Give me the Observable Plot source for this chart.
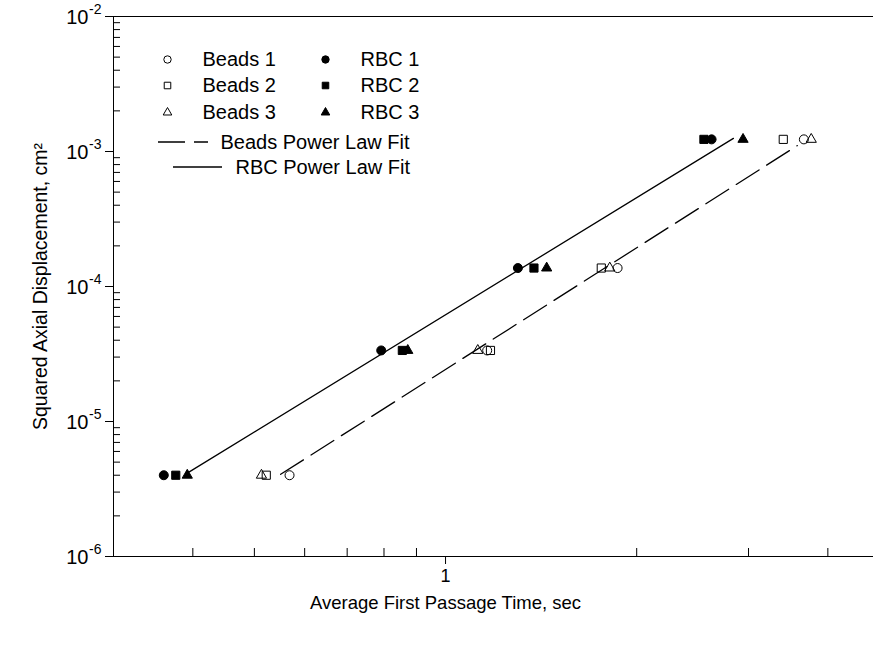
<!DOCTYPE html>
<html><head><meta charset="utf-8">
<script src="https://cdn.jsdelivr.net/npm/d3@7"></script>
<script src="https://cdn.jsdelivr.net/npm/@observablehq/plot@0.6"></script>
<style>body{margin:0;background:#fff}</style>
</head><body><div id="chart"></div>
<script>
// ---- data ----
const yLevels = [4.0e-6, 3.36e-5, 1.37e-4, 1.23e-3];   // squared axial displacement, cm^2
const beads1 = [0.568, 1.163, 1.866, 3.667];            // average first passage time, sec
const beads2 = [0.522, 1.177, 1.759, 3.403];
const beads3 = [0.513, 1.124, 1.814, 3.766];
const rbc1 = [0.360, 0.792, 1.300, 2.624];
const rbc2 = [0.376, 0.855, 1.378, 2.552];
const rbc3 = [0.392, 0.872, 1.443, 2.941];
const seriesNames = ["Beads 1", "Beads 2", "Beads 3", "RBC 1", "RBC 2", "RBC 3"];
const seriesSymbols = ["circle", "square", "triangle", "circle", "square", "triangle"];
const seriesFilled = [false, false, false, true, true, true];
const fitNames = ["Beads Power Law Fit", "RBC Power Law Fit"];
const beadsFitRange = [0.55, 3.58];
const rbcFitRange = [0.392, 2.84];
const xDomain = [0.3, 4.72];
const yDomain = [1e-6, 1e-2];
const xMajor = [1];
const xMinor = [0.4, 0.5, 0.6, 0.7, 0.8, 0.9, 2, 3, 4];
const yMajor = [1e-6, 1e-5, 1e-4, 1e-3, 1e-2];
const yExponents = ["-6", "-5", "-4", "-3", "-2"];
const yMinor = [1e-6, 1e-5, 1e-4, 1e-3].flatMap(d => [2,3,4,5,6,7,8,9].map(k => k * d));
const xTitle = "Average First Passage Time, sec";
const yTitle = "Squared Axial Displacement, cm²";

// ---- build tables ----
const seriesX = [beads1, beads2, beads3, rbc1, rbc2, rbc3];
const points = seriesX.flatMap((xs, s) => xs.map((x, i) => ({series: seriesNames[s], s, x, y: yLevels[i]})));

function powerFit(group, range) {
  const pts = points.filter(p => group.includes(p.s)).map(p => [Math.log10(p.x), Math.log10(p.y)]);
  const mx = d3.mean(pts, p => p[0]), my = d3.mean(pts, p => p[1]);
  const b = d3.sum(pts, p => (p[0]-mx)*(p[1]-my)) / d3.sum(pts, p => (p[0]-mx)**2);
  const a = my - b*mx;
  return range.map(x => ({x, y: Math.pow(10, a + b*Math.log10(x))}));
}
const beadsFit = powerFit([0,1,2], beadsFitRange);
const rbcFit = powerFit([3,4,5], rbcFitRange);

const F = "'Liberation Sans', Arial, Helvetica, sans-serif";
const W = 873, H = 645, mL = 113, mR = 0, mT = 16, mB = 89;
const frameW = W - mL - mR, frameH = H - mT - mB;
const dash = "27,9";
const LF = 20; // legend font size

// legend layout (pixel offsets from the frame's top-left corner)
const legSymDx = [54, 212], legTextDx = [89, 247], legRowDy = [43, 69, 96];
const legLineDy = [126, 151], legLineX = [[45, 95], [60, 109]], legLineTextDx = [107, 122];

const marks = [
  Plot.ruleY([yDomain[1]], {stroke: "black", strokeWidth: 1}),
  Plot.ruleY([yDomain[0]], {stroke: "black", strokeWidth: 1}),
  Plot.ruleX([xDomain[0]], {stroke: "black", strokeWidth: 1}),
  Plot.tickY(yMinor, {y: d => d, insetRight: frameW - 7, stroke: "black"}),
  Plot.tickY(yMajor, {y: d => d, insetLeft: -8, insetRight: frameW, stroke: "black"}),
  Plot.tickX(xMinor, {x: d => d, insetTop: frameH - 8, stroke: "black"}),
  Plot.tickX(xMajor, {x: d => d, insetTop: frameH, insetBottom: -8, stroke: "black"}),
  // tick labels
  Plot.text(xMajor, {x: d => d, frameAnchor: "bottom", dy: 25, text: d => String(d), fontSize: 18, fill: "black"}),
  Plot.text(yMajor, {y: d => d, frameAnchor: "left", dx: -25, dy: 1, text: () => "10", textAnchor: "end", fontSize: 20, fill: "black"}),
  Plot.text(yMajor, {y: d => d, frameAnchor: "left", dx: -12, dy: -7, text: (d, i) => yExponents[i], textAnchor: "end", fontSize: 14, fill: "black"}),
  // axis titles
  Plot.text([xTitle], {frameAnchor: "bottom", dx: -48, dy: 52, text: d => d, textAnchor: "middle", fontSize: 18.5, fill: "black"}),
  Plot.text([yTitle], {frameAnchor: "left", dx: -73, rotate: -90, text: d => d, textAnchor: "middle", fontSize: 19.5, fill: "black"}),
  // fits
  Plot.line(beadsFit, {x: "x", y: "y", stroke: "black", strokeWidth: 1.3, strokeDasharray: dash}),
  Plot.line(rbcFit, {x: "x", y: "y", stroke: "black", strokeWidth: 1.3}),
  // points
  ...seriesNames.map((name, s) => Plot.dot(points.filter(p => p.s === s), {
    x: "x", y: "y", symbol: () => seriesSymbols[s],
    r: seriesSymbols[s] === "triangle" ? 3.8 : seriesSymbols[s] === "square" ? 4.6 : 4.5,
    fill: seriesFilled[s] ? "black" : "none", stroke: "black", strokeWidth: 1
  })),
  // legend symbols and labels
  ...seriesNames.map((name, i) => {
    const col = i < 3 ? 0 : 1, row = i % 3;
    return Plot.dot([name], {frameAnchor: "top-left", dx: legSymDx[col], dy: legRowDy[row],
      symbol: () => seriesSymbols[i],
      r: seriesSymbols[i] === "triangle" ? 3.2 : 3.7,
      fill: seriesFilled[i] ? "black" : "none", stroke: "black", strokeWidth: 1});
  }),
  ...seriesNames.map((name, i) => {
    const col = i < 3 ? 0 : 1, row = i % 3;
    return Plot.text([name], {frameAnchor: "top-left", dx: legTextDx[col], dy: legRowDy[row],
      text: d => d, textAnchor: "start", lineAnchor: "middle", fontSize: LF, fill: "black"});
  }),
  ...fitNames.map((name, i) => Plot.text([name], {frameAnchor: "top-left", dx: legLineTextDx[i], dy: legLineDy[i],
      text: d => d, textAnchor: "start", lineAnchor: "middle", fontSize: LF, fill: "black"})),
];

const chart = Plot.plot({
  width: W, height: H, marginLeft: mL, marginRight: mR, marginTop: mT, marginBottom: mB,
  x: {type: "log", domain: xDomain, axis: null},
  y: {type: "log", domain: yDomain, axis: null},
  style: {fontFamily: F, background: "white", color: "black", overflow: "visible"},
  marks
});

// legend line samples, placed with pixel offsets from the frame corner
const svg = d3.select(chart);
fitNames.forEach((name, i) => {
  svg.append("line")
    .attr("x1", mL + legLineX[i][0]).attr("x2", mL + legLineX[i][1])
    .attr("y1", mT + legLineDy[i]).attr("y2", mT + legLineDy[i])
    .attr("stroke", "black").attr("stroke-width", 1.3)
    .attr("stroke-dasharray", i === 0 ? "27,9" : null);
});
document.getElementById("chart").append(chart);
</script></body></html>
